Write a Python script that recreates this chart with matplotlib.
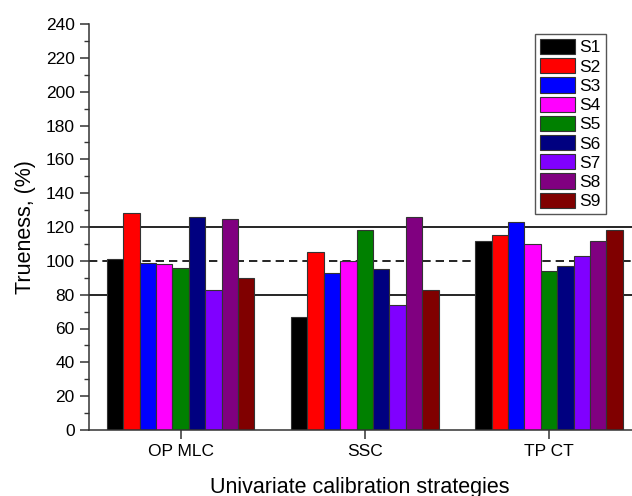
import numpy as np
import matplotlib
matplotlib.use("Agg")
import matplotlib.pyplot as plt
from matplotlib.ticker import MultipleLocator

plt.rcParams['font.family'] = ['Liberation Sans', 'DejaVu Sans']

strategies = ["OP MLC", "SSC", "TP CT"]
series = ["S1", "S2", "S3", "S4", "S5", "S6", "S7", "S8", "S9"]
s1 = [101, 67, 112]
s2 = [128, 105, 115]
s3 = [99, 93, 123]
s4 = [98, 100, 110]
s5 = [96, 118, 94]
s6 = [126, 95, 97]
s7 = [83, 74, 103]
s8 = [125, 126, 112]
s9 = [90, 83, 118]
values = [s1, s2, s3, s4, s5, s6, s7, s8, s9]
colors = ["#000000", "#FF0000", "#0000FF", "#FF00FF", "#008000",
          "#000080", "#8000FF", "#800080", "#800000"]

fig = plt.figure(figsize=(6.32, 4.96), dpi=100)
ax = fig.add_axes([88.5 / 632, 66 / 496, 1 - 88.5 / 632, 406 / 496])

x = np.arange(1, len(strategies) + 1)
width = 0.089
for i, (name, vals, c) in enumerate(zip(series, values, colors)):
    offs = (i - (len(series) - 1) / 2) * width
    ax.bar(x + offs, vals, width, color=c, edgecolor="#333333",
           linewidth=0.8, label=name, zorder=2)

ax.axhline(120, color="black", lw=1.2, zorder=1)
ax.axhline(80, color="black", lw=1.2, zorder=1)
ax.axhline(100, color="black", lw=1.2, ls=(0, (5, 3)), zorder=1)

ax.set_xlim(0.5, 3.45)
ax.set_ylim(0, 240)
ax.yaxis.set_major_locator(MultipleLocator(20))
ax.yaxis.set_minor_locator(MultipleLocator(10))
ax.set_xticks(x)
ax.set_xticklabels(strategies, fontsize=12.5)
ax.tick_params(axis="y", labelsize=12.5)
ax.tick_params(which="major", direction="out", length=6.5, width=1.1, color="#333333")
ax.tick_params(which="minor", direction="out", length=3.5, width=1.0, color="#333333")
ax.spines["top"].set_visible(False)
ax.spines["right"].set_visible(False)
for sp in ("left", "bottom"):
    ax.spines[sp].set_linewidth(1.1)
    ax.spines[sp].set_color("#333333")

ax.set_ylabel("Trueness, (%)", fontsize=15.5, labelpad=7)
ax.set_xlabel("Univariate calibration strategies", fontsize=15.5, labelpad=13)

leg = ax.legend(loc="upper left", fontsize=12.5,
                handlelength=2.0, handleheight=0.98, handletextpad=0.28,
                labelspacing=0.15, borderpad=0.28, borderaxespad=0,
                fancybox=False, framealpha=1, edgecolor="#555555")
leg.set_bbox_to_anchor((535 / 632, 1 - 34 / 496), transform=fig.transFigure)
leg.get_frame().set_linewidth(1.0)

fig.savefig("out.png", dpi=100)
